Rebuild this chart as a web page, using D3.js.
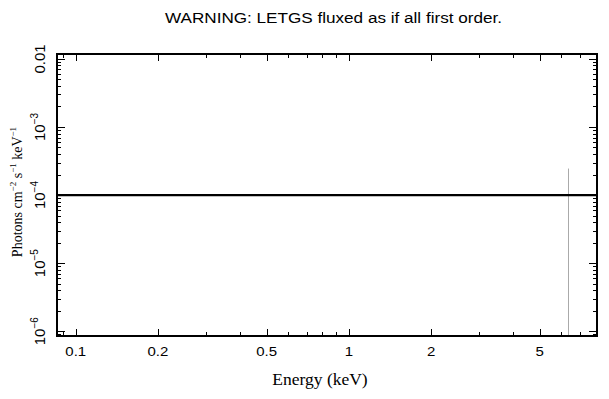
<!DOCTYPE html>
<html>
  <head>
    <meta charset="UTF-8" />
    <title>LETGS spectrum</title>
    <script src="https://d3js.org/d3.v7.min.js"></script>
    <style>
      body { margin: 0; background: #fff; }
      .sans { font-family: "Liberation Sans", Arial, sans-serif; }
      .serif { font-family: "Liberation Serif", "Times New Roman", serif; }
    </style>
  </head>
  <body>
    <svg id="chart" width="609" height="399"></svg>
    <script>
      // axis ranges
      const energyRange = [0.0854, 8.1];
      const fluxRange = [0.85e-6, 0.0118];

      const xTickValues = [0.1, 0.2, 0.5, 1, 2, 5];
      const xTickLabels = ["0.1", "0.2", "0.5", "1", "2", "5"];
      const yTickValues = [1e-6, 1e-5, 1e-4, 1e-3, 1e-2];
      const yTickLabels = [["10", "−6"], ["10", "−5"], ["10", "−4"], ["10", "−3"], ["0.01", ""]];

      // model: flat continuum plus one narrow line
      const continuumEnergy = [0.0854, 8.1];
      const continuumFlux = [1e-4, 1e-4];
      const lineEnergy = [6.32];
      const linePeak = [2.45e-4];

      const svg = d3.select("#chart");
      const plotLeft = 57, plotRight = 597, plotTop = 54, plotBottom = 336;

      const x = d3.scaleLog().domain(energyRange).range([plotLeft, plotRight]);
      const y = d3.scaleLog().domain(fluxRange).range([plotBottom, plotTop]);

      // minor ticks 1..9 of each decade, inside range
      const minorTicks = (scale, lo, hi) => {
        const out = [];
        for (let e = lo; e <= hi; e++) {
          for (let m = 1; m < 10; m++) {
            const v = m * Math.pow(10, e);
            const d = scale.domain();
            if (v >= d[0] && v <= d[1]) out.push(v);
          }
        }
        return out;
      };
      const xMinor = minorTicks(x, -2, 1);
      const yMinor = minorTicks(y, -7, -2);

      const tickG = svg.append("g").attr("stroke", "#000").attr("stroke-width", 1);
      const isMajor = (v) => Math.abs(Math.log10(v) - Math.round(Math.log10(v))) < 1e-9;
      const isXLabelled = (v) => xTickValues.some((t) => Math.abs(t - v) < 1e-9);

      xMinor.forEach((v) => {
        const len = isXLabelled(v) ? 7 : 4;
        const px = Math.round(x(v)) + 0.5;
        tickG.append("line").attr("x1", px).attr("x2", px).attr("y1", plotBottom).attr("y2", plotBottom - len);
        tickG.append("line").attr("x1", px).attr("x2", px).attr("y1", plotTop).attr("y2", plotTop + len);
      });
      yMinor.forEach((v) => {
        const len = isMajor(v) ? 8 : 4;
        const py = Math.round(y(v)) + 0.5;
        tickG.append("line").attr("x1", plotLeft).attr("x2", plotLeft + len).attr("y1", py).attr("y2", py);
        tickG.append("line").attr("x1", plotRight).attr("x2", plotRight - len).attr("y1", py).attr("y2", py);
      });

      // gray emission line
      svg
        .selectAll("line.feature")
        .data(lineEnergy)
        .enter()
        .append("line")
        .attr("class", "feature")
        .attr("x1", (d) => Math.round(x(d)) + 0.5)
        .attr("x2", (d) => Math.round(x(d)) + 0.5)
        .attr("y1", (d, i) => y(linePeak[i]))
        .attr("y2", plotBottom)
        .attr("stroke", "#aaa")
        .attr("stroke-width", 1);

      // continuum
      const line = d3
        .line()
        .x((d) => x(d[0]))
        .y((d) => y(d[1]));
      svg
        .append("path")
        .datum(d3.zip(continuumEnergy, continuumFlux))
        .attr("d", line)
        .attr("fill", "none")
        .attr("stroke", "#000")
        .attr("stroke-width", 2.2);

      // frame
      svg
        .append("rect")
        .attr("x", plotLeft)
        .attr("y", plotTop)
        .attr("width", plotRight - plotLeft)
        .attr("height", plotBottom - plotTop)
        .attr("fill", "none")
        .attr("stroke", "#000")
        .attr("stroke-width", 2);

      // x tick labels (the original font is set a bit wide)
      svg
        .selectAll("text.xt")
        .data(xTickValues)
        .enter()
        .append("text")
        .attr("class", "xt sans")
        .attr("transform", (d) => `translate(${x(d)},356) scale(1.25,1)`)
        .attr("text-anchor", "middle")
        .attr("font-size", 12)
        .text((d, i) => xTickLabels[i]);

      // y tick labels, rotated
      const yt = svg
        .selectAll("text.yt")
        .data(yTickValues)
        .enter()
        .append("text")
        .attr("class", "yt sans")
        .attr("transform", (d) => `translate(45,${y(d)}) rotate(-90)`)
        .attr("text-anchor", "middle")
        .attr("font-size", 15);
      yt.append("tspan").text((d, i) => yTickLabels[i][0]);
      yt.append("tspan")
        .attr("font-size", 10)
        .attr("dy", -7)
        .text((d, i) => yTickLabels[i][1]);

      // axis titles
      svg
        .append("text")
        .attr("class", "serif")
        .attr("x", 320)
        .attr("y", 385)
        .attr("text-anchor", "middle")
        .attr("font-size", 17.5)
        .text("Energy (keV)");

      const yl = svg
        .append("text")
        .attr("class", "serif")
        .attr("transform", "translate(22,192) rotate(-90)")
        .attr("text-anchor", "middle")
        .attr("font-size", 14);
      const parts = [
        ["Photons cm", 0],
        ["−2", 1],
        [" s", 0],
        ["−1", 1],
        [" keV", 0],
        ["−1", 1],
      ];
      parts.forEach(([t, sup], i) => {
        const prevSup = i > 0 && parts[i - 1][1];
        yl.append("tspan")
          .attr("font-size", sup ? 9 : 14)
          .attr("dy", sup ? -6 : prevSup ? 6 : 0)
          .text(t);
      });

      // title
      svg
        .append("text")
        .attr("class", "sans")
        .attr("x", 333.5)
        .attr("y", 23)
        .attr("text-anchor", "middle")
        .attr("font-size", 14)
        .attr("textLength", 337)
        .attr("lengthAdjust", "spacingAndGlyphs")
        .text("WARNING: LETGS fluxed as if all first order.");
    </script>
  </body>
</html>
